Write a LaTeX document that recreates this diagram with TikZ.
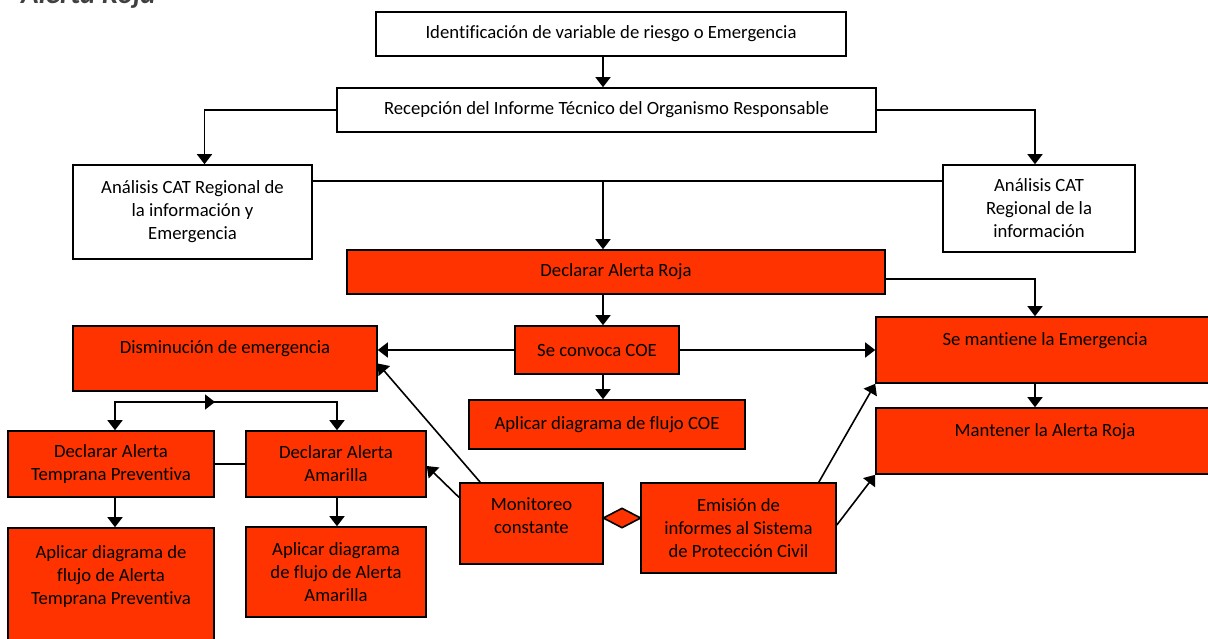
\documentclass[tikz,border=0pt]{standalone}
\usepackage{fontspec}
\setmainfont{Carlito}[Ligatures=NoCommon]
\usepackage{xcolor}
\usetikzlibrary{arrows.meta,shapes.geometric,calc}
\definecolor{rojoAlerta}{RGB}{255,51,0}
\definecolor{grisTitulo}{RGB}{64,64,64}

\begin{document}
\begin{tikzpicture}[x=1pt,y=-1pt,
  caja/.style={draw,line width=1.6pt,inner sep=0pt,align=center,font=\fontsize{18.7}{23}\selectfont},
  roja/.style={caja,fill=rojoAlerta},
  rombo/.style={diamond,draw,fill=rojoAlerta,line width=1.6pt,inner sep=0pt,minimum width=38pt,minimum height=20pt},
  flecha/.style={line width=1.6pt,-{Triangle[width=15pt,length=10pt]}},
  linea/.style={line width=1.6pt}]
\useasboundingbox (0,0) rectangle (1208,638);
\coordinate (eje) at (603,0);
\coordinate (union) at (603,181);
\coordinate (rama) at (210,402);

\node[anchor=base west,inner sep=0pt,text=grisTitulo,font=\fontsize{29}{31}\selectfont\bfseries\itshape] (titulo) at (21,3) {Alerta Roja};

\node[caja,minimum width=470pt,minimum height=44pt] (ident) at (611,34) {Identificación de variable de riesgo o Emergencia};
\node[caja,minimum width=539pt,minimum height=44pt] (recep) at (606.5,110) {Recepción del Informe Técnico del Organismo Responsable};
\node[caja,minimum width=239pt,minimum height=94pt] (anl) at (192.5,212) {Análisis CAT Regional de\\la información y\\Emergencia};
\node[caja,minimum width=192pt,minimum height=87pt] (anr) at (1039,208.5) {Análisis CAT\\Regional de la\\información};

\node[roja,minimum width=538pt,minimum height=44pt] (dar) at (616,272) {Declarar Alerta Roja};
\node[roja,minimum width=164pt,minimum height=48pt] (coe) at (597,350) {Se convoca COE};
\node[roja,minimum width=276pt,minimum height=49pt] (apcoe) at (607,424.5) {Aplicar diagrama de flujo COE};
\node[roja,minimum width=338pt,minimum height=66pt] (sm) at (1045,350) {Se mantiene la Emergencia\\~};
\node[roja,minimum width=338pt,minimum height=66pt] (mant) at (1045,441) {Mantener la Alerta Roja\\~};
\node[roja,minimum width=304pt,minimum height=65pt] (dism) at (225,358.5) {Disminución de emergencia\\~};

\node[roja,minimum width=206pt,minimum height=66pt] (datp) at (111,464) {Declarar Alerta\\Temprana Preventiva};
\node[roja,minimum width=180pt,minimum height=66pt] (daa) at (336,464) {Declarar Alerta\\Amarilla};
\node[roja,minimum width=206pt,minimum height=117pt] (apatp) at (111,586.5) {Aplicar diagrama de\\flujo de Alerta\\Temprana Preventiva\\~};
\node[roja,minimum width=180pt,minimum height=90pt] (apaa) at (336,572) {Aplicar diagrama\\de flujo de Alerta\\Amarilla};

\node[roja,minimum width=143pt,minimum height=81pt] (mon) at (531.5,523.5) {Monitoreo\\constante\\[-8pt]~};
\node[roja,minimum width=195pt,minimum height=90pt] (emi) at (738.5,528) {Emisión de\\informes al Sistema\\de Protección Civil};
\node[rombo] (enlace) at (622,518) {};

\foreach \a/\b in {ident/recep,dar/coe,coe/apcoe}{\draw[flecha] (\a.south -| eje) -- (\b.north -| eje);}
\draw[flecha] (recep.west) -| ([xshift=12pt]anl.north);
\draw[flecha] (recep.east) -| ([xshift=-4pt]anr.north);
\draw[linea] ([yshift=31pt]anl.east) -- (union) -- ([yshift=27.5pt]anr.west);
\draw[flecha] (union) -- (union |- dar.north);
\draw[flecha] ([yshift=-7pt]dar.east) -| ([xshift=-10pt]sm.north);
\draw[flecha] ([xshift=-10pt]sm.south) -- ([xshift=-10pt]mant.north);
\draw[flecha] (coe.west) -- (coe.west -| dism.east);
\draw[flecha] (coe.east) -- (coe.east -| sm.west);

\draw[flecha] (rama) -| ([xshift=4pt]datp.north);
\draw[flecha] (rama) -| ([xshift=1pt]daa.north);
\draw[flecha] ([xshift=-6pt]rama) -- ([xshift=5pt]rama);
\draw[linea] (datp.east) -- (daa.west);
\foreach \a/\b/\x in {datp/apatp/4,daa/apaa/1}{\draw[flecha] ([xshift=\x pt]\a.south) -- ([xshift=\x pt]\b.north);}

\draw[flecha] ([xshift=21pt]mon.north west) -- ([yshift=-5pt]dism.east);
\draw[flecha] ([yshift=26pt]mon.west) -- ([yshift=-2pt]daa.east);
\draw[flecha] ([xshift=-18pt]emi.north east) -- (sm.south west);
\draw[flecha] ([yshift=3pt]emi.east) -- (mant.south west);
\end{tikzpicture}
\end{document}
